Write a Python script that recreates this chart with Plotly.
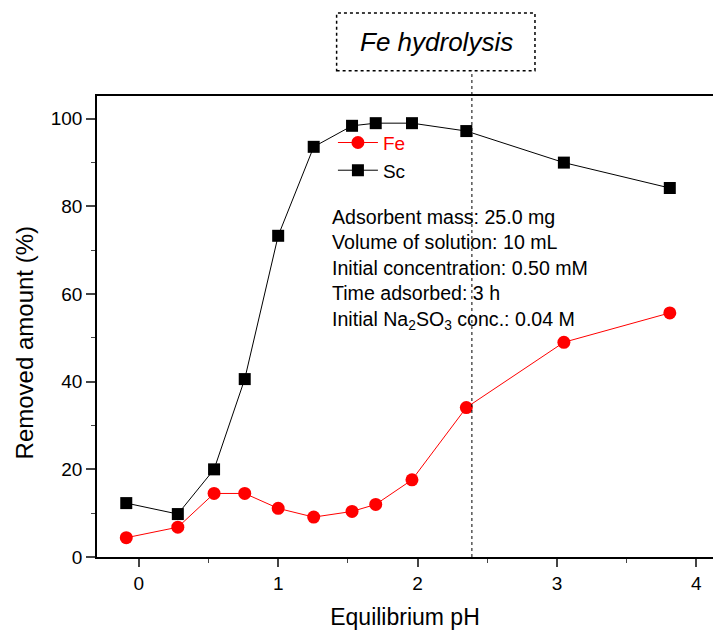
import plotly.graph_objects as go

ph_values = [-0.09, 0.28, 0.54, 0.76, 1.00, 1.255, 1.53, 1.70, 1.96, 2.35, 3.05, 3.81]
fe_removed = [4.4, 6.8, 14.5, 14.5, 11.1, 9.1, 10.4, 12.0, 17.6, 34.1, 49.0, 55.7]
sc_removed = [12.3, 9.8, 20.0, 40.6, 73.3, 93.6, 98.4, 99.0, 99.0, 97.2, 90.0, 84.2]
hydrolysis_ph = 2.39
x_ticks = [0, 1, 2, 3, 4]
y_ticks = [0, 20, 40, 60, 80, 100]
conditions = [
    "Adsorbent mass: 25.0 mg",
    "Volume of solution: 10 mL",
    "Initial concentration: 0.50 mM",
    "Time adsorbed: 3 h",
    "Initial Na<sub>2</sub>SO<sub>3</sub> conc.: 0.04 M",
]

FONT = "Liberation Sans, Arial, sans-serif"

fig = go.Figure()
fig.add_trace(go.Scatter(
    x=ph_values, y=fe_removed, name="<span style='color:#ff0000'>Fe</span>",
    mode="lines+markers",
    line=dict(color="#ff0000", width=1),
    marker=dict(symbol="circle", size=13, color="#ff0000"),
))
fig.add_trace(go.Scatter(
    x=ph_values, y=sc_removed, name="Sc", mode="lines+markers",
    line=dict(color="#000000", width=1),
    marker=dict(symbol="square", size=12, color="#000000"),
))

# vertical dotted line (Fe hydrolysis onset)
fig.add_shape(type="line", xref="x", yref="paper", x0=hydrolysis_ph, x1=hydrolysis_ph,
              y0=0, y1=1.055, line=dict(color="black", width=1, dash="dot"))
# dotted box
fig.add_shape(type="rect", xref="paper", yref="paper", x0=0.389, x1=0.711,
              y0=1.055, y1=1.180, line=dict(color="black", width=1.5, dash="dot"))
fig.add_annotation(xref="paper", yref="paper", x=0.5515, y=1.118,
                   text="<i>Fe hydrolysis</i>", showarrow=False,
                   font=dict(family=FONT, size=26, color="black"),
                   xanchor="center", yanchor="middle")

fig.add_annotation(xref="paper", yref="paper", x=0.378, y=0.765,
                   text="<br>".join(conditions), showarrow=False, align="left",
                   xanchor="left", yanchor="top",
                   font=dict(family=FONT, size=19.6, color="black"))

# y-axis title (offset downward like the reference)
fig.add_annotation(xref="paper", yref="paper", x=-0.118, y=0.464,
                   text="Removed amount (%)", showarrow=False, textangle=-90,
                   xanchor="center", yanchor="middle",
                   font=dict(family=FONT, size=24, color="black"))

fig.update_layout(
    width=713, height=630,
    margin=dict(l=97, r=0, t=96, b=73),
    plot_bgcolor="white", paper_bgcolor="white",
    font=dict(family=FONT, size=18, color="black"),
    showlegend=True,
    legend=dict(x=0.383, y=0.94, xanchor="left", yanchor="top",
                bgcolor="rgba(0,0,0,0)", font=dict(size=19, family=FONT),
                tracegroupgap=0, itemwidth=40),
    xaxis=dict(range=[-0.3, 4.12], tickvals=x_ticks, ticks="outside", ticklen=8,
               tickwidth=1.5, showline=True, linewidth=1.5, linecolor="black",
               mirror=True, showgrid=False, zeroline=False,
               minor=dict(dtick=0.5, tick0=0, ticks="outside", ticklen=4, tickwidth=1),
               title=dict(text="Equilibrium pH", font=dict(size=23), standoff=18),
               tickfont=dict(size=19)),
    yaxis=dict(range=[0, 105.2], tickvals=y_ticks, ticks="outside", ticklen=9,
               tickwidth=1.5, showline=True, linewidth=1.5, linecolor="black",
               showgrid=False, zeroline=False,
               minor=dict(dtick=10, tick0=0, ticks="outside", ticklen=4, tickwidth=1),
               tickfont=dict(size=19)),
)

fig.write_html("out.html")
